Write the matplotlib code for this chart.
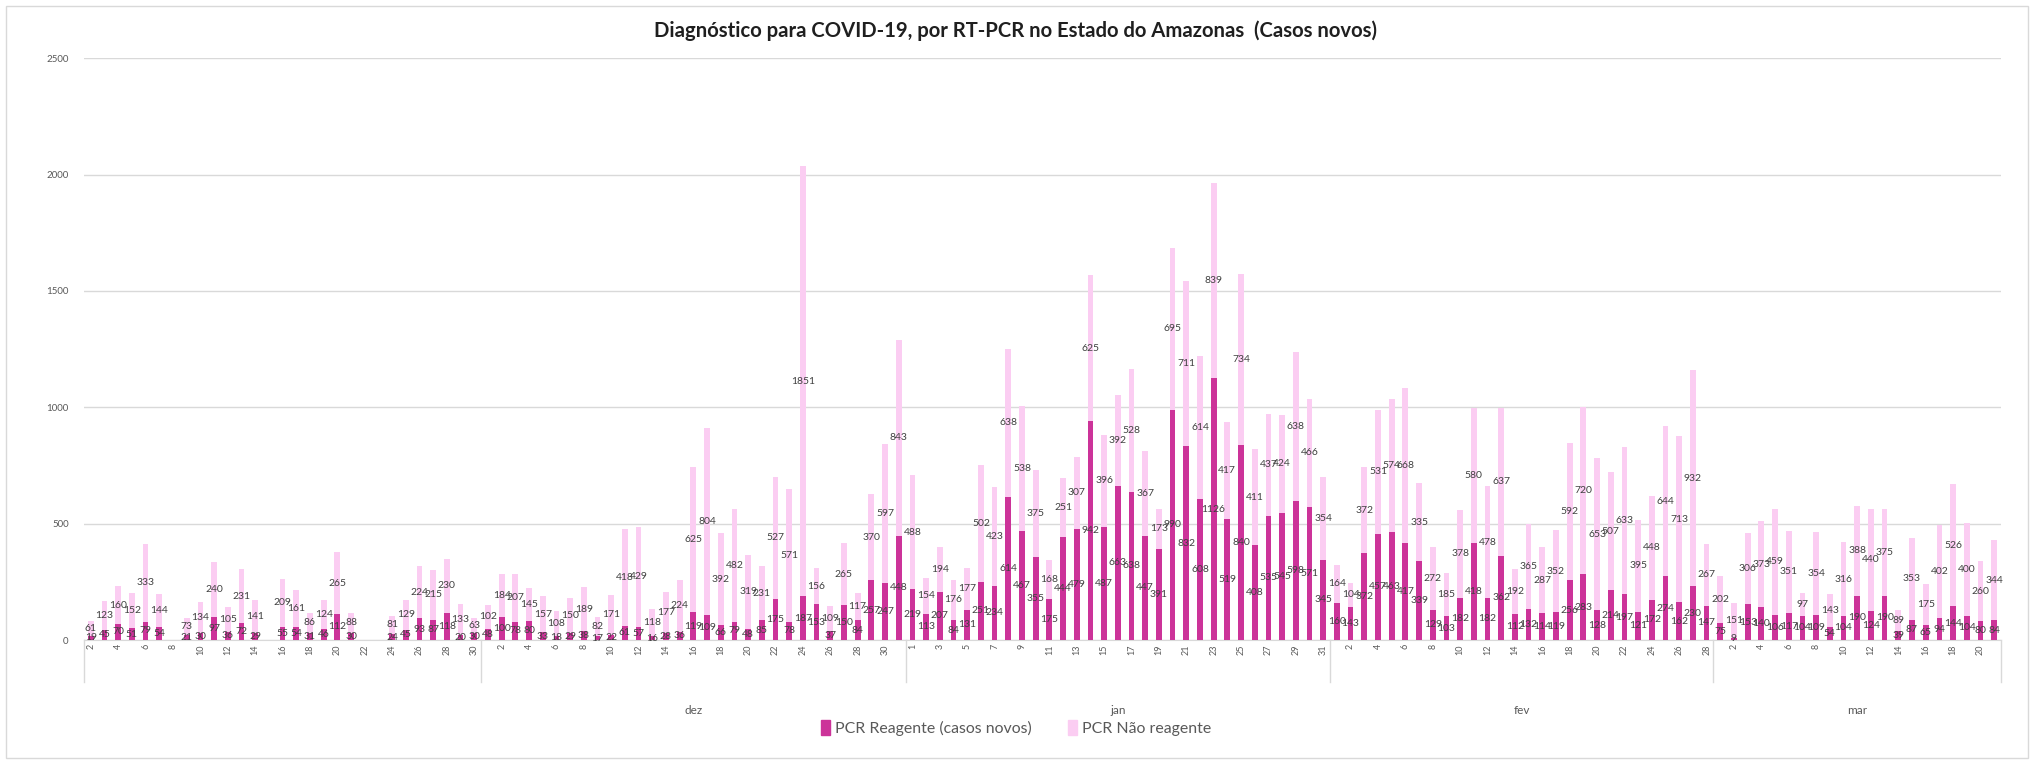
import numpy as np
import matplotlib
matplotlib.use("Agg")
import matplotlib.pyplot as plt
from matplotlib.patches import Rectangle, Patch
import matplotlib.transforms as mtransforms

plt.rcParams['font.family'] = ['Lato', 'DejaVu Sans']

# --- dados (dias sem registro = None) ---
months = ['', 'dez', 'jan', 'fev', 'mar']
month_days = [list(range(2, 31)), list(range(1, 32)), list(range(1, 32)),
              list(range(1, 29)), list(range(1, 22))]

reag_nov = [19, 45, 70, 51, 79, 54, None, 21, 30, 97, 36, 72, 29, None, 55, 54, 31, 46, 112, 30,
            None, None, 24, 45, 93, 87, 118, 20, 30]
nao_nov = [61, 123, 160, 152, 333, 144, None, 73, 134, 240, 105, 231, 141, None, 209, 161, 86, 124, 265, 88,
           None, None, 81, 129, 224, 215, 230, 133, 63]

reag_dez = [48, 100, 78, 80, 33, 18, 29, 38, 17, 22, 61, 57, 16, 28, 36, 119, 109, 66, 79, 48, 85, 175,
            78, 187, 153, 37, 150, 84, 257, 247, 448]
nao_dez = [102, 184, 207, 145, 157, 108, 150, 189, 82, 171, 418, 429, 118, 177, 224, 625, 804, 392, 482,
           319, 231, 527, 571, 1851, 156, 109, 265, 117, 370, 597, 843]

reag_jan = [219, 113, 207, 84, 131, 251, 234, 614, 467, 355, 175, 444, 479, 942, 487, 663, 638, 447, 391,
            990, 832, 608, 1126, 519, 840, 408, 535, 545, 598, 571, 345]
nao_jan = [488, 154, 194, 176, 177, 502, 423, 638, 538, 375, 168, 251, 307, 625, 396, 392, 528, 367, 173,
           695, 711, 614, 839, 417, 734, 411, 437, 424, 638, 466, 354]

reag_fev = [160, 143, 372, 457, 463, 417, 339, 129, 103, 182, 418, 182, 362, 112, 132, 114, 119, 256, 283,
            128, 214, 197, 121, 172, 274, 162, 230, 147]
nao_fev = [164, 104, 372, 531, 574, 668, 335, 272, 185, 378, 580, 478, 637, 192, 365, 287, 352, 592, 720,
           653, 507, 633, 395, 448, 644, 713, 932, 267]

reag_mar = [75, 9, 153, 140, 106, 117, 104, 109, 54, 104, 190, 124, 190, 39, 87, 65, 94, 144, 104, 80, 84]
nao_mar = [202, 151, 306, 373, 459, 351, 97, 354, 143, 316, 388, 440, 375, 89, 353, 175, 402, 526, 400, 260, 344]

# --- montagem ---
reag_all = reag_nov + reag_dez + reag_jan + reag_fev + reag_mar
nao_all = nao_nov + nao_dez + nao_jan + nao_fev + nao_mar
days = sum(month_days, [])
reag = np.array([np.nan if v is None else v for v in reag_all], dtype=float)
nao = np.array([np.nan if v is None else v for v in nao_all], dtype=float)
x = np.arange(len(days))

C_REAG = '#CC3399'
C_NAO = '#FBCDF2'
GRID = '#D9D9D9'
TXT = '#595959'

fig = plt.figure(figsize=(20.32, 7.63), dpi=100)
ax = fig.add_axes([84 / 2032, 1 - 640 / 763, (2001 - 84) / 2032, (640 - 58.3) / 763])

W = 0.42
ax.bar(x, reag, W, color=C_REAG, zorder=3)
ax.bar(x, nao, W, bottom=reag, color=C_NAO, zorder=3)

# rótulos no centro de cada segmento
for i in x:
    if np.isnan(reag[i]):
        continue
    ax.text(i, reag[i] / 2, f"{int(reag[i])}", ha='center', va='center', fontsize=7.5, color='#404040', zorder=5)
    ax.text(i, reag[i] + nao[i] / 2, f"{int(nao[i])}", ha='center', va='center', fontsize=7.5,
            color='#404040', zorder=5)

ax.set_xlim(-0.5, len(days) - 0.5)
ax.set_ylim(0, 2500)
ax.set_yticks(np.arange(0, 2501, 500))
ax.yaxis.grid(True, color=GRID, lw=1)
ax.set_axisbelow(True)
ax.tick_params(axis='y', length=0, labelsize=7, labelcolor=TXT, pad=11)

ax.set_xticks(x[::2])
ax.set_xticklabels([str(d) for d in days[::2]], rotation=90, fontsize=6.5, color=TXT)
ax.tick_params(axis='x', length=0, pad=3)

for s in ['top', 'right', 'left']:
    ax.spines[s].set_visible(False)
ax.spines['bottom'].set_color(GRID)

# separadores dos meses e rótulos
trans = mtransforms.blended_transform_factory(ax.transData, ax.transAxes)
sep_depth = -(682 - 640) / (640 - 58.3)
edges = np.cumsum([0] + [len(d) for d in month_days]) - 0.5
for e in edges:
    ax.plot([e, e], [0, sep_depth], color=GRID, lw=1, transform=trans, clip_on=False)
for k, m in enumerate(months):
    mid = (edges[k] + edges[k + 1]) / 2
    ax.text(mid, -(710 - 640) / (640 - 58.3), m, transform=trans, ha='center', va='center',
            fontsize=8.5, color=TXT)

fig.text(0.5, 1 - 31 / 763, 'Diagnóstico para COVID-19, por RT-PCR no Estado do Amazonas  (Casos novos)',
         ha='center', va='center', fontsize=14.6, fontweight='bold', color='#1F1F1F')

handles = [Patch(color=C_REAG, label='PCR Reagente (casos novos)'),
           Patch(color=C_NAO, label='PCR Não reagente')]
fig.legend(handles=handles, loc='center', bbox_to_anchor=(0.5, 1 - 728 / 763), ncol=2, frameon=False,
           fontsize=11.4, labelcolor=TXT, handlelength=0.6, handleheight=1.1, handletextpad=0.3,
           columnspacing=2.3)

fig.add_artist(Rectangle((6 / 2032, 5 / 763), 2022 / 2032, 752 / 763, transform=fig.transFigure,
                         fill=False, edgecolor=GRID, lw=1))

fig.savefig('out.png', dpi=100)
